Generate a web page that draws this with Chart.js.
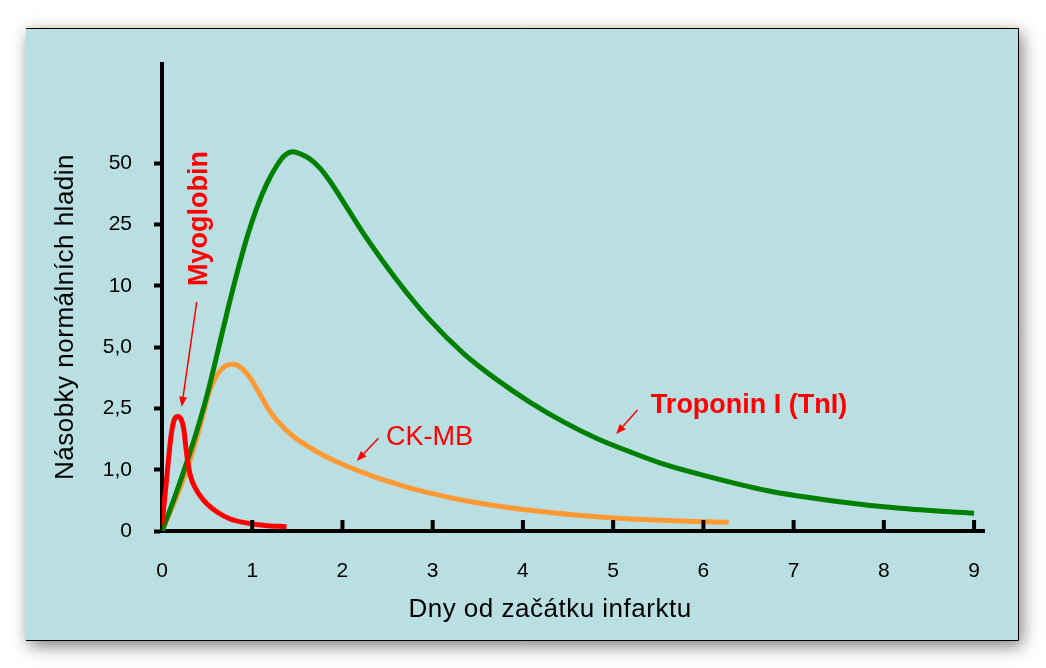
<!DOCTYPE html>
<html lang="cs">
<head>
<meta charset="utf-8">
<title>Srdeční markery po infarktu</title>
<script src="https://cdn.jsdelivr.net/npm/chart.js@4.4.1/dist/chart.umd.min.js"></script>
<style>
  html, body { margin: 0; padding: 0; background: #ffffff; }
  #wrap { width: 1046px; height: 668px; }
</style>
</head>
<body>
<div id="wrap"><canvas id="markersChart" width="1046" height="668"></canvas></div>
<script>
// osa x: dny, osa y: pořadí hladiny (0 .. 6 -> popisky níže)
const xTicks = [0, 1, 2, 3, 4, 5, 6, 7, 8, 9];
const yTicks = [0, 1, 2, 3, 4, 5, 6];
const yLabels = ['0', '1,0', '2,5', '5,0', '10', '25', '50'];

// Myoglobin
const myoX = [0, 0.05, 0.10, 0.14, 0.175, 0.21, 0.24, 0.27, 0.30, 0.33, 0.37, 0.42, 0.50, 0.61, 0.75, 0.90, 1.14, 1.38];
const myoY = [0.10, 0.83, 1.55, 1.83, 1.87, 1.83, 1.68, 1.30, 1.00, 0.83, 0.70, 0.58, 0.44, 0.31, 0.20, 0.14, 0.09, 0.07];

// Troponin I
const tniX = [0, 0.14, 0.27, 0.39, 0.50, 0.61, 0.72, 0.83, 0.94, 1.05, 1.16, 1.28, 1.36, 1.45, 1.54, 1.64, 1.75, 1.86, 2.04, 2.23, 2.60, 2.97, 3.34, 3.71, 4.08, 4.45, 4.82, 5.19, 5.56, 5.97, 6.70, 7.44, 8.18, 9.00];
const tniY = [0, 0.55, 1.10, 1.65, 2.22, 2.88, 3.56, 4.20, 4.78, 5.27, 5.66, 5.98, 6.13, 6.19, 6.15, 6.07, 5.92, 5.71, 5.30, 4.86, 4.10, 3.44, 2.90, 2.47, 2.10, 1.78, 1.51, 1.29, 1.09, 0.92, 0.66, 0.49, 0.37, 0.29];

// CK-MB
const ckmbX = [0, 0.20, 0.31, 0.42, 0.53, 0.62, 0.70, 0.79, 0.88, 0.98, 1.09, 1.18, 1.27, 1.45, 1.64, 1.82, 2.01, 2.38, 2.64, 2.86, 3.38, 4.12, 4.86, 5.60, 6.28];
const ckmbY = [0, 0.70, 1.15, 1.70, 2.30, 2.57, 2.69, 2.72, 2.66, 2.49, 2.22, 1.99, 1.81, 1.55, 1.36, 1.21, 1.08, 0.87, 0.75, 0.66, 0.49, 0.33, 0.23, 0.17, 0.14];

const FONT = '"Liberation Sans", Arial, sans-serif';

function toPoints(xs, ys) {
    return xs.map((x, i) => ({ x: x, y: ys[i] }));
}

// šipka z (x1,y1) do hrotu (x2,y2)
function arrow(ctx, x1, y1, x2, y2) {
    const ang = Math.atan2(y2 - y1, x2 - x1);
    const len = 10, half = 4;
    const bx = x2 - Math.cos(ang) * len, by = y2 - Math.sin(ang) * len;
    ctx.beginPath();
    ctx.moveTo(x1, y1);
    ctx.lineTo(bx, by);
    ctx.stroke();
    ctx.beginPath();
    ctx.moveTo(x2, y2);
    ctx.lineTo(bx + Math.sin(ang) * half, by - Math.cos(ang) * half);
    ctx.lineTo(bx - Math.sin(ang) * half, by + Math.cos(ang) * half);
    ctx.closePath();
    ctx.fill();
}

// pozadí snímku se stínem
const panelPlugin = {
    id: 'panel',
    beforeDraw(chart) {
        const ctx = chart.ctx;
        ctx.save();
        ctx.shadowColor = 'rgba(0, 0, 0, 0.5)';
        ctx.shadowBlur = 16;
        ctx.shadowOffsetX = 3;
        ctx.shadowOffsetY = 5;
        ctx.fillStyle = '#badfe2';
        ctx.fillRect(26, 28, 993, 613);
        ctx.restore();
        ctx.save();
        ctx.strokeStyle = '#f3e0b0';
        ctx.lineWidth = 1;
        ctx.beginPath();
        ctx.moveTo(26, 26.5);
        ctx.lineTo(1019, 26.5);
        ctx.stroke();
        ctx.strokeStyle = '#000';
        ctx.beginPath();
        ctx.moveTo(26, 28.5);
        ctx.lineTo(1018.5, 28.5);
        ctx.lineTo(1018.5, 640.5);
        ctx.lineTo(26, 640.5);
        ctx.stroke();
        ctx.restore();
    }
};

// dílky osy x směrem nahoru, popisky a šipky
const notesPlugin = {
    id: 'notes',
    afterDatasetsDraw(chart) {
        const ctx = chart.ctx;
        const xs = chart.scales.x, ys = chart.scales.y;
        const px = v => xs.getPixelForValue(v);
        const py = v => ys.getPixelForValue(v);
        const area = chart.chartArea;

        ctx.save();
        ctx.fillStyle = '#000';
        xs.ticks.forEach(t => {
            if (t.value > 0) ctx.fillRect(px(t.value) - 2, area.bottom - 11, 4, 11);
        });

        // názvy os
        ctx.font = '26px ' + FONT;
        ctx.letterSpacing = '0.5px';
        ctx.textAlign = 'center';
        ctx.textBaseline = 'alphabetic';
        ctx.fillText('Dny od začátku infarktu', 550, 617);
        ctx.save();
        ctx.translate(73, 317);
        ctx.rotate(-Math.PI / 2);
        ctx.fillText('Násobky normálních hladin', 0, 0);
        ctx.restore();
        ctx.letterSpacing = '0px';

        // popisky křivek
        ctx.fillStyle = '#ff0000';
        ctx.strokeStyle = '#ff0000';
        ctx.lineWidth = 1.5;
        ctx.textAlign = 'left';
        ctx.font = 'bold 27px ' + FONT;
        ctx.fillText('Troponin I (TnI)', px(5.418), py(1.92));
        arrow(ctx, px(5.27), py(1.974), px(5.033), py(1.582));

        ctx.font = '27px ' + FONT;
        ctx.fillText('CK-MB', px(2.483), py(1.403));
        arrow(ctx, px(2.398), py(1.512), px(2.159), py(1.142));

        ctx.save();
        ctx.translate(px(0.499), py(5.10));
        ctx.rotate(-Math.PI / 2);
        ctx.textAlign = 'center';
        ctx.font = 'bold 27px ' + FONT;
        ctx.fillText('Myoglobin', 0, 0);
        ctx.restore();
        arrow(ctx, px(0.385), py(3.74), px(0.218), py(2.028));
        ctx.restore();
    }
};

const ctx = document.getElementById('markersChart').getContext('2d');
const markersChart = new Chart(ctx, {
    type: 'line',
    data: {
        datasets: [
            { label: 'Myoglobin', data: toPoints(myoX, myoY), borderColor: '#ff0000' },
            { label: 'Troponin I (TnI)', data: toPoints(tniX, tniY), borderColor: '#008000' },
            { label: 'CK-MB', data: toPoints(ckmbX, ckmbY), borderColor: '#ff9933' }
        ]
    },
    options: {
        responsive: false,
        animation: false,
        layout: { padding: { top: 64, right: 62, bottom: 77, left: 0 } },
        plugins: {
            legend: { display: false },
            tooltip: { enabled: false }
        },
        elements: {
            point: { radius: 0 },
            line: { borderWidth: 5, cubicInterpolationMode: 'monotone', fill: false }
        },
        scales: {
            x: {
                type: 'linear',
                min: 0,
                max: 9.11,
                afterFit: s => { s.height = 60; },
                afterBuildTicks: s => { s.ticks = xTicks.map(v => ({ value: v })); },
                grid: { drawOnChartArea: false, drawTicks: false },
                border: { display: true, color: '#000', width: 4 },
                ticks: {
                    color: '#000',
                    font: { family: FONT, size: 21 },
                    padding: 28,
                    maxRotation: 0,
                    autoSkip: false,
                    callback: v => String(v)
                }
            },
            y: {
                type: 'linear',
                min: 0,
                max: 7.62,
                afterFit: s => { s.width = 162; },
                afterBuildTicks: s => { s.ticks = yTicks.map(v => ({ value: v })); },
                grid: { drawOnChartArea: false, drawTicks: true, tickLength: 8, tickWidth: 4, tickColor: '#000' },
                border: { display: true, color: '#000', width: 4 },
                ticks: {
                    color: '#000',
                    font: { family: FONT, size: 21 },
                    padding: 22,
                    autoSkip: false,
                    callback: (v, i) => yLabels[i]
                }
            }
        }
    },
    plugins: [panelPlugin, notesPlugin]
});
</script>
</body>
</html>
